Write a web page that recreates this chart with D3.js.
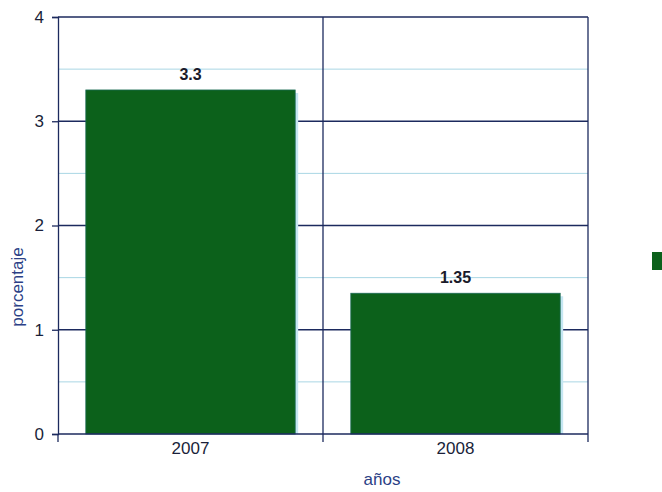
<!DOCTYPE html>
<html><head><meta charset="utf-8">
<script src="https://cdn.jsdelivr.net/npm/d3@7"></script>
<style>body{margin:0;background:#fff;} svg{display:block;}</style>
</head><body>
<svg id="c" width="662" height="492"></svg>
<script>
const categories = ["2007", "2008"];
const values = [3.3, 1.35];
const valueLabels = ["3.3", "1.35"];
const yTicks = [0, 1, 2, 3, 4];
const yMinor = [0.5, 1.5, 2.5, 3.5];

const svg = d3.select("#c");
const L = 58, R = 588, T = 17, B = 434;
const navy = "#1c2a5e";
const green = "#0c611b";
const font = "'Liberation Sans', Arial, sans-serif";

const x = d3.scaleBand().domain(categories).range([L, R]).paddingInner(0.21).paddingOuter(0.105);
const y = d3.scaleLinear().domain([0, 4]).range([B, T]);

// minor gridlines
svg.append("g").selectAll("line").data(yMinor).join("line")
  .attr("x1", L).attr("x2", R).attr("y1", d => y(d)).attr("y2", d => y(d))
  .attr("stroke", "#a9d6e4").attr("stroke-width", 1);
// major gridlines
svg.append("g").selectAll("line").data(yTicks.filter(d => d > 0)).join("line")
  .attr("x1", L).attr("x2", R).attr("y1", d => y(d)).attr("y2", d => y(d))
  .attr("stroke", navy).attr("stroke-width", 1.3);
// category separators
const step = x.step();
svg.append("g").selectAll("line").data(categories.slice(1)).join("line")
  .attr("x1", d => x(d) - x.paddingInner() * step / 2).attr("x2", d => x(d) - x.paddingInner() * step / 2)
  .attr("y1", T).attr("y2", B + 8).attr("stroke", navy).attr("stroke-width", 1.3);
// right border
svg.append("line").attr("x1", R).attr("x2", R).attr("y1", T).attr("y2", B + 8)
  .attr("stroke", navy).attr("stroke-width", 1.3);

// bars shadow
svg.append("g").selectAll("rect").data(values).join("rect")
  .attr("x", (d, i) => x(categories[i]) + 3).attr("y", d => y(d) + 3)
  .attr("width", x.bandwidth()).attr("height", d => B - y(d) - 3)
  .attr("fill", "#c5e6f2");
// bars
svg.append("g").selectAll("rect").data(values).join("rect")
  .attr("x", (d, i) => x(categories[i])).attr("y", d => y(d))
  .attr("width", x.bandwidth()).attr("height", d => B - y(d))
  .attr("fill", green).attr("stroke", "#1a6a55").attr("stroke-width", 0.8);

// value labels
svg.append("g").selectAll("text").data(values).join("text")
  .attr("x", (d, i) => x(categories[i]) + x.bandwidth() / 2).attr("y", d => y(d) - 10)
  .attr("text-anchor", "middle").attr("font-family", font).attr("font-weight", "bold")
  .attr("font-size", 16).attr("fill", "#1a1a2a").text((d, i) => valueLabels[i]);

// y axis
const yAxis = d3.axisLeft(y).tickValues(yTicks).tickSize(6).tickFormat(d3.format("d"));
const ga = svg.append("g").attr("transform", `translate(${L},0)`).call(yAxis);
ga.select(".domain").attr("stroke", navy).attr("stroke-width", 1.3);
ga.selectAll(".tick line").attr("stroke", navy).attr("stroke-width", 1.3);
ga.selectAll(".tick text").attr("font-family", font).attr("font-size", 17).attr("fill", "#1a1f3a").attr("x", -14);

// x axis
const xAxis = d3.axisBottom(x).tickSize(0).tickPadding(8);
const gx = svg.append("g").attr("transform", `translate(0,${B})`).call(xAxis);
gx.select(".domain").remove();
gx.selectAll(".tick text").attr("font-family", font).attr("font-size", 17).attr("fill", "#1a1f3a");
svg.append("line").attr("x1", L).attr("x2", R).attr("y1", B).attr("y2", B).attr("stroke", navy).attr("stroke-width", 1.6);
svg.append("line").attr("x1", L).attr("x2", L).attr("y1", B).attr("y2", B + 8).attr("stroke", navy).attr("stroke-width", 1.3);

// axis titles
svg.append("text").attr("transform", `translate(23,287) rotate(-90)`).attr("text-anchor", "middle")
  .attr("font-family", font).attr("font-size", 17).attr("fill", "#2b3f86").text("porcentaje");
svg.append("text").attr("x", 382).attr("y", 485).attr("text-anchor", "middle")
  .attr("font-family", font).attr("font-size", 17).attr("fill", "#2b3f86").text("años");

// legend swatch (cut off)
svg.append("rect").attr("x", 652).attr("y", 252).attr("width", 12).attr("height", 18).attr("fill", green);
</script>
</body></html>
